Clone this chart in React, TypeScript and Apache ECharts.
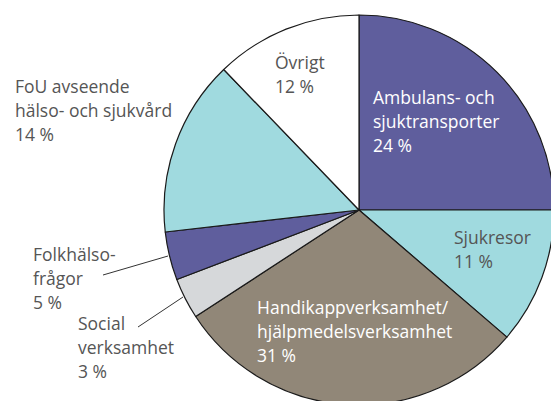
import React, { useEffect, useRef } from "react";
import * as echarts from "echarts";

// Slice names (as in the chart labels) and shares (angles)
const categories = [
  "Ambulans- och sjuktransporter",
  "Sjukresor",
  "Handikappverksamhet/hjälpmedelsverksamhet",
  "Social verksamhet",
  "Folkhälsofrågor",
  "FoU avseende hälso- och sjukvård",
  "Övrigt",
];
const values = [25.0, 11.3, 29.5, 3.4, 4.0, 14.6, 12.2];
const labelPercents = ["24 %", "11 %", "31 %", "3 %", "5 %", "14 %", "12 %"];
const labelLines = [
  ["Ambulans- och", "sjuktransporter"],
  ["Sjukresor"],
  ["Handikappverksamhet/", "hjälpmedelsverksamhet"],
  ["Social", "verksamhet"],
  ["Folkhälso-", "frågor"],
  ["FoU avseende", "hälso- och sjukvård"],
  ["Övrigt"],
];

const sliceColors = ["#5f5e9d", "#a0dadf", "#918778", "#d6d8da", "#5f5e9d", "#a0dadf", "#ffffff"];
const labelColors = ["#ffffff", "#555555", "#ffffff", "#555555", "#555555", "#555555", "#555555"];
// label top-left positions (layout)
const labelPos: [number, number][] = [
  [373, 85],
  [454, 225],
  [257, 295],
  [78, 311],
  [33, 242],
  [15, 74],
  [275, 50],
];
// leader lines for outside labels: [x1, y1, x2, y2]
const leaders: { idx: number; pts: number[] }[] = [
  { idx: 4, pts: [103, 275, 168, 256] },
  { idx: 3, pts: [138, 327, 183, 297] },
];

export default function App() {
  const ref = useRef<HTMLDivElement>(null);
  useEffect(() => {
    if (!ref.current) return;
    const chart = echarts.init(ref.current, undefined, { renderer: "svg" });
    const fontFamily = "'Open Sans', sans-serif";
    const texts = categories.map((c, i) => ({
      type: "text",
      x: labelPos[i][0],
      y: labelPos[i][1],
      silent: true,
      z: 100,
      style: {
        text: [...labelLines[i], labelPercents[i]].join("\n"),
        fill: labelColors[i],
        font: `17.5px ${fontFamily}`,
        lineHeight: 24,
        textAlign: "left",
        textVerticalAlign: "top",
      },
    }));
    const lines = leaders.map((l) => ({
      type: "line",
      silent: true,
      z: 100,
      shape: { x1: l.pts[0], y1: l.pts[1], x2: l.pts[2], y2: l.pts[3] },
      style: { stroke: "#333", lineWidth: 1 },
    }));
    chart.setOption({
      animation: false,
      backgroundColor: "#ffffff",
      series: [
        {
          type: "pie",
          center: [359, 210],
          radius: 195,
          startAngle: 90,
          clockwise: true,
          silent: true,
          label: { show: false },
          labelLine: { show: false },
          itemStyle: { borderColor: "#1a1a1a", borderWidth: 1.2 },
          data: categories.map((name, i) => ({
            name,
            value: values[i],
            itemStyle: { color: sliceColors[i] },
          })),
        },
      ],
      graphic: [...lines, ...texts],
    });
    return () => chart.dispose();
  }, []);
  return (
    <div
      ref={ref}
      style={{ position: "fixed", left: 0, top: 0, width: 551, height: 401 }}
    />
  );
}
